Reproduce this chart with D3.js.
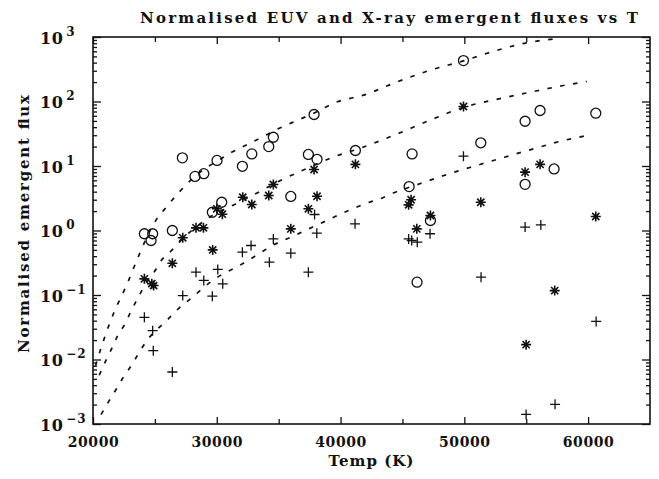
<!DOCTYPE html>
<html>
<head>
<meta charset="utf-8">
<script src="https://cdn.jsdelivr.net/npm/d3@7"></script>
<style>
    body { margin: 0; background: #fff; }
    text { font-family: "DejaVu Serif", "Liberation Serif", serif; fill: #111; font-weight: bold; }
</style>
</head>
<body>
<div id="chart"></div>
<script>
// temperatures (K) and normalised fluxes
let circleTemps = [24150, 24820, 24690, 26410, 27220, 28240, 28950, 30020, 29640, 30400, 32070, 32830, 34200, 34570, 35980, 37860, 37400, 38100, 41200, 45780, 45540, 47260, 46180, 49930, 51330, 54910, 54910, 56120, 57250, 60620];
let circleFlux = [0.89, 0.89, 0.70, 1.0, 13.4, 6.9, 7.6, 12.2, 1.92, 2.74, 9.9, 15.4, 20, 27.9, 3.37, 62.9, 15.1, 12.7, 17.4, 15.4, 4.8, 1.43, 0.158, 431, 22.9, 49.4, 5.2, 72.5, 9.0, 65.8];

let starTemps = [24150, 24750, 24900, 26410, 27250, 28320, 28920, 29670, 30000, 30450, 32100, 32830, 34200, 34570, 35980, 37860, 37400, 38100, 41200, 45700, 45500, 47260, 46160, 49930, 51330, 54910, 56120, 60620, 57300, 54990];
let starFlux = [0.178, 0.15, 0.14, 0.31, 0.77, 1.10, 1.10, 0.50, 2.17, 1.79, 3.28, 2.53, 3.49, 5.17, 1.06, 8.83, 2.17, 3.40, 10.6, 3.0, 2.5, 1.71, 1.06, 83.6, 2.74, 8.03, 10.6, 1.65, 0.117, 0.017];

let plusTemps = [24150, 24820, 24870, 26410, 27250, 28320, 28950, 29640, 30080, 30480, 32070, 32770, 34250, 34570, 35980, 37400, 37900, 38080, 41170, 49930, 45500, 45750, 46200, 47230, 51350, 54910, 56180, 60650, 54990, 57330];
let plusFlux = [0.045, 0.028, 0.0137, 0.0064, 0.098, 0.226, 0.168, 0.096, 0.249, 0.149, 0.461, 0.585, 0.323, 0.74, 0.445, 0.226, 1.77, 0.91, 1.27, 14.2, 0.74, 0.70, 0.66, 0.89, 0.189, 1.13, 1.22, 0.039, 0.00141, 0.00202];

// dashed model curves
let curve1Temps = [20200, 20900, 21700, 22700, 23500, 24300, 25000, 26000, 27000, 28000, 29000, 30000, 31000, 32000, 33500, 35000, 36500, 38000, 39500, 42000, 44500, 47000, 50000, 52500, 55000, 57700];
let curve1Flux = [0.008, 0.021, 0.054, 0.14, 0.33, 0.75, 1.36, 2.4, 4.0, 6.3, 9.0, 11.8, 15.5, 19.5, 27, 38, 51, 68, 95, 128, 199, 295, 431, 610, 810, 955];

let curve2Temps = [20500, 21000, 21500, 22000, 22600, 23100, 23700, 24300, 24900, 25500, 26400, 27400, 28500, 29500, 31000, 33000, 35100, 37400, 39400, 41800, 44500, 47200, 50000, 52600, 55300, 58000, 59900];
let curve2Flux = [0.0057, 0.0093, 0.0146, 0.0236, 0.036, 0.058, 0.095, 0.158, 0.22, 0.34, 0.5, 0.8, 1.2, 1.65, 2.3, 3.6, 5.9, 9.4, 13.7, 19.5, 31, 51, 82, 108, 139, 177, 204];

let curve3Temps = [20650, 21250, 21850, 22450, 23100, 23750, 24350, 25150, 26000, 26800, 27700, 28650, 29600, 30500, 31600, 32600, 33600, 34600, 35650, 36700, 37800, 38900, 39900, 41000, 42100, 43200, 44300, 46400, 48700, 51000, 53200, 55600, 57700, 59900];
let curve3Flux = [0.0014, 0.0022, 0.0034, 0.0053, 0.0081, 0.013, 0.0197, 0.029, 0.041, 0.059, 0.082, 0.117, 0.165, 0.213, 0.27, 0.35, 0.46, 0.6, 0.74, 0.91, 1.15, 1.43, 1.77, 2.17, 2.65, 3.1, 3.84, 5.3, 7.5, 10.2, 13.6, 18.5, 24, 29.6];

let xTickValues = [20000, 30000, 40000, 50000, 60000];
let xMinorValues = [25000, 35000, 45000, 55000];
let yExponents = [-3, -2, -1, 0, 1, 2, 3];

let W = 659, H = 479;
let margin = {top: 37, right: 9, bottom: 55, left: 93};
let width = W - margin.left - margin.right;
let height = H - margin.top - margin.bottom;

let svg = d3.select('#chart')
    .append("svg")
    .attr("width", W)
    .attr("height", H)
    .style("display", "block");

let g = svg.append("g")
    .attr("transform", "translate(" + margin.left + "," + margin.top + ")");

let x = d3.scaleLinear().domain([20000, 65000]).range([0, width]);
let y = d3.scaleLog().domain([1e-3, 1e3]).range([height, 0]);

let yMajor = yExponents.map(function (e) { return Math.pow(10, e); });
let yMinor = [];
yExponents.slice(0, -1).forEach(function (e) {
    for (let k = 2; k <= 9; k++) yMinor.push(k * Math.pow(10, e));
});

function styleAxis(sel) {
    sel.select(".domain").remove();
    sel.selectAll(".tick line").attr("stroke", "#111").attr("stroke-width", 1.3);
}

// bottom axis with labels
let xAxisG = g.append("g")
    .attr("transform", "translate(0," + height + ")")
    .call(d3.axisBottom(x).tickValues(xTickValues).tickSize(-7).tickPadding(14)
        .tickFormat(d3.format("d")));
styleAxis(xAxisG);
xAxisG.selectAll(".tick text")
    .attr("y", 23)
    .attr("dy", null)
    .style("font-size", "14px")
    .style("letter-spacing", "0.6px");
g.append("g")
    .attr("transform", "translate(0," + height + ")")
    .call(d3.axisBottom(x).tickValues(xMinorValues).tickSize(-5).tickFormat(""))
    .call(styleAxis);

// top axis, ticks only
g.append("g")
    .call(d3.axisTop(x).tickValues(xTickValues).tickSize(-7).tickFormat(""))
    .call(styleAxis);
g.append("g")
    .call(d3.axisTop(x).tickValues(xMinorValues).tickSize(-5).tickFormat(""))
    .call(styleAxis);

// left axis with 10^n labels
let yAxisG = g.append("g")
    .call(d3.axisLeft(y).tickValues(yMajor).tickSize(-8).tickFormat(""));
styleAxis(yAxisG);
yAxisG.selectAll(".tick").each(function (d) {
    let e = Math.round(Math.log10(d));
    let t = d3.select(this).append("text")
        .attr("x", -53)
        .attr("y", 6)
        .attr("text-anchor", "start")
        .style("font-size", "16px");
    t.append("tspan").text("10").style("letter-spacing", "0.5px");
    t.append("tspan")
        .attr("dx", 3)
        .attr("dy", -8)
        .style("font-size", "12px")
        .style("letter-spacing", "1px")
        .text(e < 0 ? "\u2212" + (-e) : String(e));
});
g.append("g")
    .call(d3.axisLeft(y).tickValues(yMinor).tickSize(-4).tickFormat(""))
    .call(styleAxis);

// right axis, ticks only
g.append("g")
    .attr("transform", "translate(" + width + ",0)")
    .call(d3.axisRight(y).tickValues(yMajor).tickSize(-8).tickFormat(""))
    .call(styleAxis);
g.append("g")
    .attr("transform", "translate(" + width + ",0)")
    .call(d3.axisRight(y).tickValues(yMinor).tickSize(-4).tickFormat(""))
    .call(styleAxis);

// frame
g.append("rect")
    .attr("width", width)
    .attr("height", height)
    .attr("fill", "none")
    .attr("stroke", "#111")
    .attr("stroke-width", 1.6);

// dashed curves
let line = d3.line()
    .curve(d3.curveMonotoneX)
    .x(function (d) { return x(d[0]); })
    .y(function (d) { return y(d[1]); });

[[curve1Temps, curve1Flux], [curve2Temps, curve2Flux], [curve3Temps, curve3Flux]].forEach(function (c) {
    let pts = c[0].map(function (t, i) { return [t, c[1][i]]; });
    g.append("path")
        .datum(pts)
        .attr("fill", "none")
        .attr("stroke", "#111")
        .attr("stroke-width", 1.7)
        .attr("stroke-dasharray", "4.5,8.5")
        .attr("d", line);
});

// markers
let pts = g.append("g").attr("stroke", "#111").attr("fill", "none").attr("stroke-width", 1.3);

pts.selectAll("circle.c")
    .data(circleTemps.map(function (t, i) { return [t, circleFlux[i]]; }))
    .enter().append("circle")
    .attr("class", "c")
    .attr("cx", function (d) { return x(d[0]); })
    .attr("cy", function (d) { return y(d[1]); })
    .attr("r", 5);

let star = "M-5,0H5M0,-5V5M-3.6,-3.6L3.6,3.6M-3.6,3.6L3.6,-3.6";
pts.selectAll("path.s")
    .data(starTemps.map(function (t, i) { return [t, starFlux[i]]; }))
    .enter().append("path")
    .attr("class", "s")
    .attr("stroke-width", 1.6)
    .attr("transform", function (d) { return "translate(" + x(d[0]) + "," + y(d[1]) + ")"; })
    .attr("d", star);

let plus = "M-5,0H5M0,-5V5";
pts.selectAll("path.p")
    .data(plusTemps.map(function (t, i) { return [t, plusFlux[i]]; }))
    .enter().append("path")
    .attr("class", "p")
    .attr("transform", function (d) { return "translate(" + x(d[0]) + "," + y(d[1]) + ")"; })
    .attr("d", plus);

// titles
svg.append("text")
    .attr("x", 140)
    .attr("y", 23)
    .attr("textLength", 498)
    .attr("lengthAdjust", "spacing")
    .style("font-size", "15px")
    .text("Normalised EUV and X-ray emergent fluxes vs T");

svg.append("text")
    .attr("x", margin.left + width / 2)
    .attr("y", 466)
    .attr("text-anchor", "middle")
    .style("font-size", "15px")
    .style("letter-spacing", "1px")
    .text("Temp (K)");

svg.append("text")
    .attr("transform", "translate(29," + 353 + ") rotate(-90)")
    .attr("textLength", 258)
    .attr("lengthAdjust", "spacing")
    .style("font-size", "15px")
    .text("Normalised emergent flux");
</script>
</body>
</html>
